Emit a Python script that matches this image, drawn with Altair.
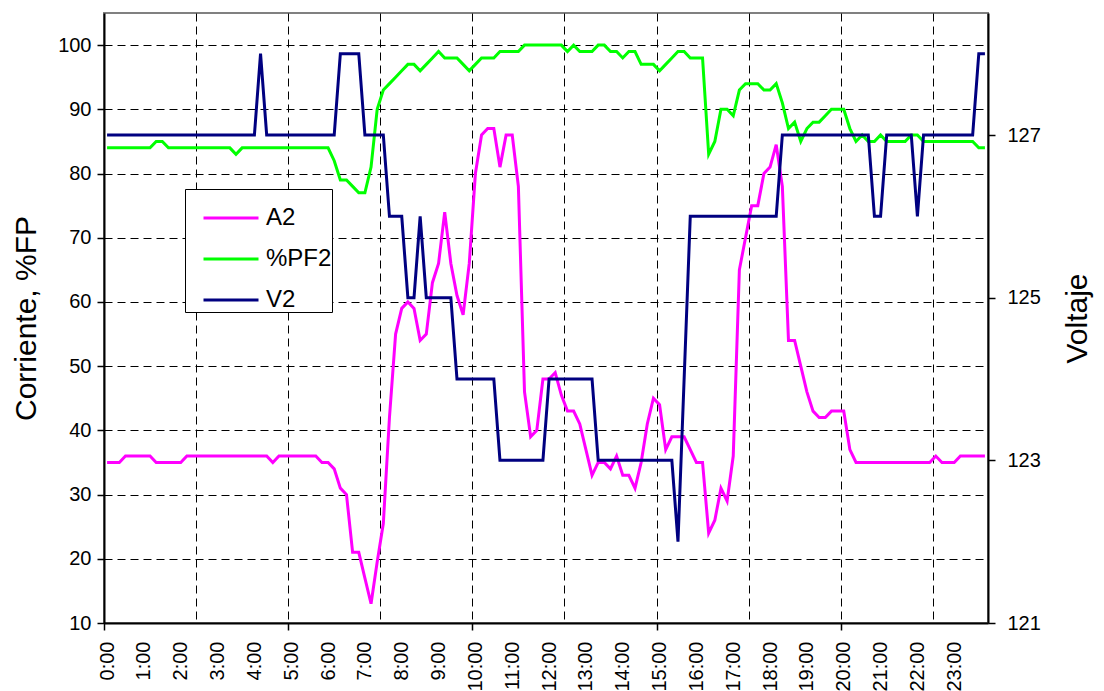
import altair as alt
import pandas as pd

# Muestras cada 10 minutos, 0:00 ... 23:50 (minutos del día)
minutos = list(range(0, 1440, 10))

series = ["A2", "%PF2", "V2"]
colores = ["#ff00ff", "#00ff00", "#000080"]

A2 = [
    35, 35, 35, 36, 36, 36, 36, 36, 35, 35, 35, 35,
    35, 36, 36, 36, 36, 36, 36, 36, 36, 36, 36, 36,
    36, 36, 36, 35, 36, 36, 36, 36, 36, 36, 36, 35,
    35, 34, 31, 30, 21, 21, 17, 13, 19.5, 25.5, 42, 55,
    59, 60, 59, 54, 55, 63, 66, 74, 66, 61, 58, 66,
    80, 86, 87, 87, 81, 86, 86, 78, 46, 39, 40, 48,
    48, 49, 45.5, 43, 43, 41, 37, 33, 35, 35, 34, 36,
    33, 33, 31, 35, 41, 45, 44, 37, 39, 39, 39, 37,
    35, 35, 24, 26, 31, 29, 36, 65, 70, 75, 75, 80,
    81, 84.5, 78, 54, 54, 50, 46, 43, 42, 42, 43, 43,
    43, 37, 35, 35, 35, 35, 35, 35, 35, 35, 35, 35,
    35, 35, 35, 36, 35, 35, 35, 36, 36, 36, 36, 36,
]

PF2 = [
    84, 84, 84, 84, 84, 84, 84, 84, 85, 85, 84, 84,
    84, 84, 84, 84, 84, 84, 84, 84, 84, 83, 84, 84,
    84, 84, 84, 84, 84, 84, 84, 84, 84, 84, 84, 84,
    84, 82, 79, 79, 78, 77, 77, 81, 90, 93, 94, 95,
    96, 97, 97, 96, 97, 98, 99, 98, 98, 98, 97, 96,
    97, 98, 98, 98, 99, 99, 99, 99, 100, 100, 100, 100,
    100, 100, 100, 99, 100, 99, 99, 99, 100, 100, 99, 99,
    98, 99, 99, 97, 97, 97, 96, 97, 98, 99, 99, 98,
    98, 98, 83, 85, 90, 90, 89, 93, 94, 94, 94, 93,
    93, 94, 91, 87, 88, 85, 87, 88, 88, 89, 90, 90,
    90, 87, 85, 86, 85, 85, 86, 85, 85, 85, 85, 86,
    86, 85, 85, 85, 85, 85, 85, 85, 85, 85, 84, 84,
]

V2 = [
    127, 127, 127, 127, 127, 127, 127, 127, 127, 127, 127, 127,
    127, 127, 127, 127, 127, 127, 127, 127, 127, 127, 127, 127,
    127, 128, 127, 127, 127, 127, 127, 127, 127, 127, 127, 127,
    127, 127, 128, 128, 128, 128, 127, 127, 127, 127, 126, 126,
    126, 125, 125, 126, 125, 125, 125, 125, 125, 124, 124, 124,
    124, 124, 124, 124, 123, 123, 123, 123, 123, 123, 123, 123,
    124, 124, 124, 124, 124, 124, 124, 124, 123, 123, 123, 123,
    123, 123, 123, 123, 123, 123, 123, 123, 123, 122, 124, 126,
    126, 126, 126, 126, 126, 126, 126, 126, 126, 126, 126, 126,
    126, 126, 127, 127, 127, 127, 127, 127, 127, 127, 127, 127,
    127, 127, 127, 127, 127, 126, 126, 127, 127, 127, 127, 127,
    126, 127, 127, 127, 127, 127, 127, 127, 127, 127, 128, 128,
]

n = len(minutos)
horas = [m / 60 for m in minutos]
df = pd.DataFrame({
    "hora": horas * 3,
    "serie": ["A2"] * n + ["%PF2"] * n + ["V2"] * n,
    "valor": A2 + PF2 + V2,
})

FONT = "Liberation Sans"
half = 1 / 12  # media muestra: los puntos van centrados en su categoría
step_px = 884 / 144

x_enc = alt.X(
    "hora:Q",
    scale=alt.Scale(domain=[-half, 24 - half], nice=False, zero=False),
    axis=alt.Axis(
        values=[k / 2 for k in range(48)],
        labelExpr="datum.value % 1 === 0 ? format(datum.value, 'd') + ':00' : ''",
        labelAngle=270, labelAlign="right", labelBaseline="middle",
        labelFontSize=20, labelPadding=11, labelOverlap=False,
        tickSize=7, tickWidth=1.5, tickColor="black",
        tickOffset=-step_px / 2, labelOffset=step_px / 2,
        tickOpacity={"condition": {"test": "datum.value % 5 === 0", "value": 1}, "value": 0},
        grid=True, gridColor="black", gridDash=[8, 5], gridWidth=1,
        gridOpacity={"condition": {"test": "datum.value % 2.5 === 0 && datum.value > 0", "value": 1}, "value": 0},
        domainColor="black", domainWidth=2, title=None,
    ),
)

color_enc = alt.Color(
    "serie:N",
    scale=alt.Scale(domain=series, range=colores),
    legend=alt.Legend(
        title=None,
        orient="none", legendX=81, legendY=176,
        padding=0, rowPadding=0,
        symbolType="stroke", symbolSize=3025, symbolStrokeWidth=3, symbolOffset=17,
        labelOffset=6, labelFontSize=24, labelFont=FONT, labelColor="black",
        strokeColor="black", fillColor="white",
    ),
)

left = alt.Chart(df).transform_filter("datum.serie !== 'V2'").mark_line(strokeWidth=3).encode(
    x=x_enc,
    y=alt.Y(
        "valor:Q",
        scale=alt.Scale(domain=[10, 105], nice=False, zero=False),
        axis=alt.Axis(
            values=list(range(10, 101, 10)),
            title="Corriente, %FP", titleFontSize=30, titleFontWeight="normal", titlePadding=16,
            labelFontSize=20, labelPadding=6, tickSize=7, tickWidth=1.5, tickColor="black",
            grid=True, gridColor="black", gridDash=[8, 5], gridWidth=1,
            domainColor="black", domainWidth=2,
        ),
    ),
    color=color_enc,
)

right = alt.Chart(df).transform_filter("datum.serie === 'V2'").mark_line(strokeWidth=3).encode(
    x=x_enc,
    y=alt.Y(
        "valor:Q",
        scale=alt.Scale(domain=[121, 128.5], nice=False, zero=False),
        axis=alt.Axis(
            orient="right", values=[121, 123, 125, 127],
            title="Voltaje", titleAngle=270, titleFontSize=30, titleFontWeight="normal", titlePadding=52,
            labelFontSize=20, labelPadding=12, tickSize=7, tickWidth=1.5, tickColor="black",
            grid=False, domainColor="black", domainWidth=2,
        ),
    ),
    color=color_enc,
)

chart = (
    alt.layer(left, right)
    .resolve_scale(y="independent")
    .properties(
        width=884, height=610,
        autosize=alt.AutoSizeParams(type="none"),
        padding={"left": 96, "top": 5, "right": 106, "bottom": 68},
    )
    .configure_view(stroke="#808080", strokeWidth=2)
    .configure_axis(labelFont=FONT, titleFont=FONT, labelColor="black", titleColor="black")
    .configure_legend(labelFont=FONT, titleFont=FONT)
)

chart.save("out.html", embed_options={"renderer": "svg", "actions": False})
